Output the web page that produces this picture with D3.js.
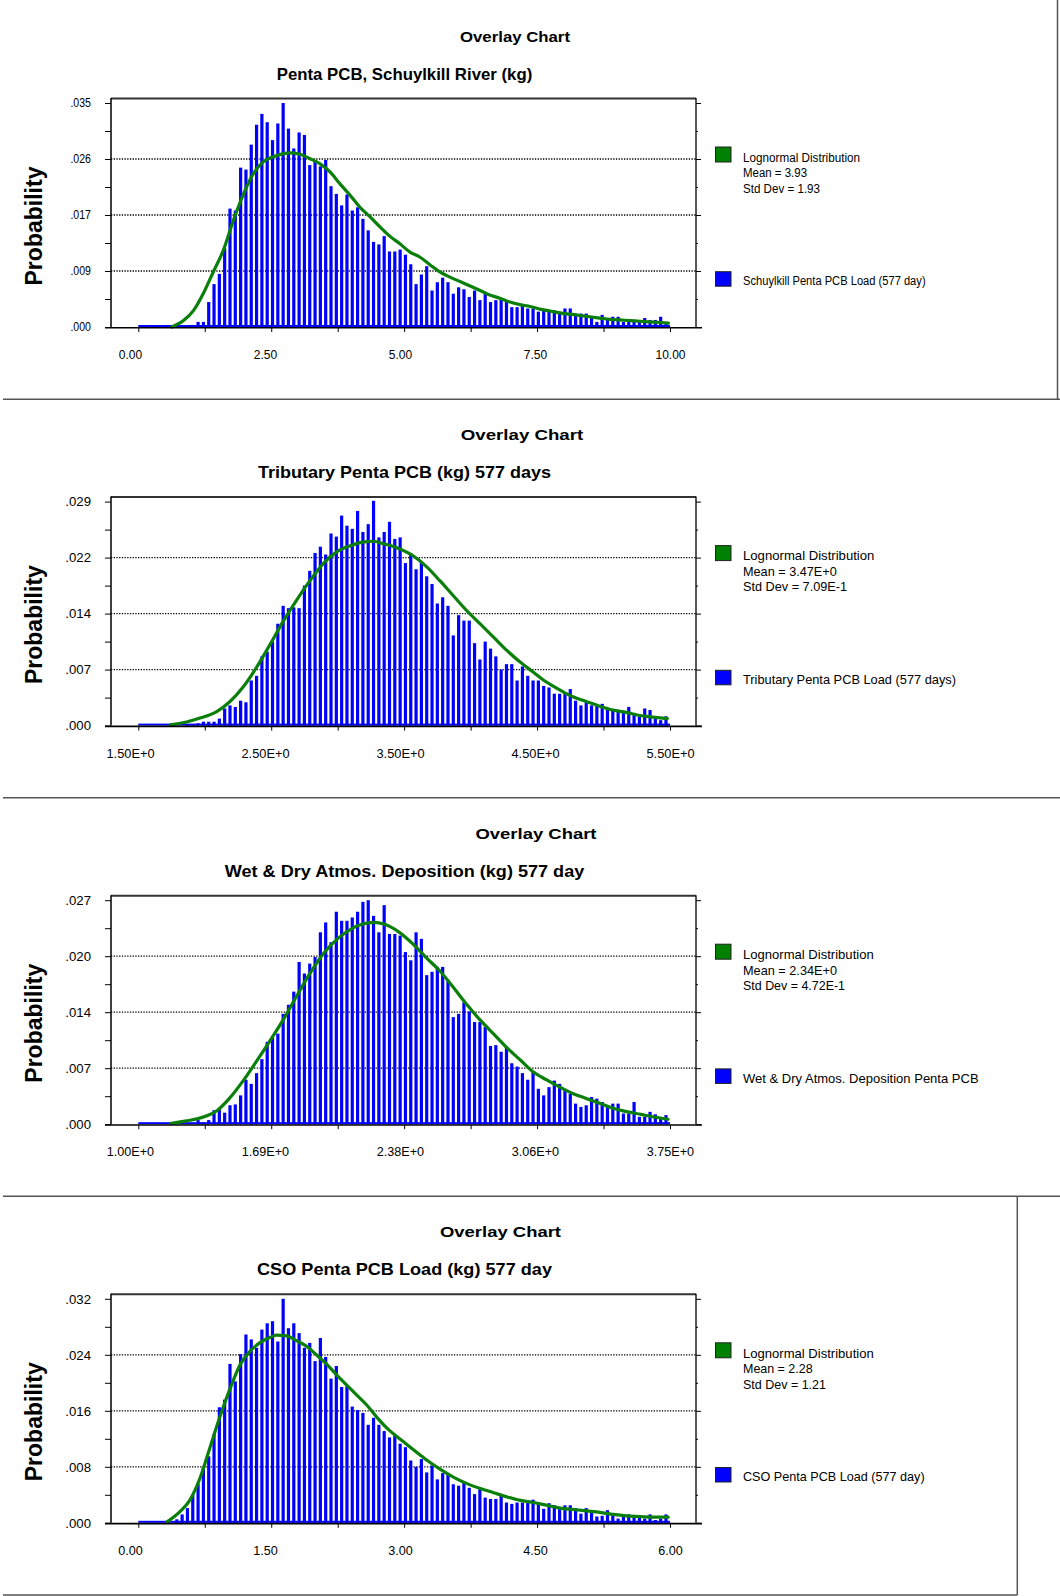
<!DOCTYPE html>
<html><head><meta charset="utf-8">
<script src="https://cdn.jsdelivr.net/npm/d3@7/dist/d3.min.js"></script>
<style>
body{margin:0;background:#fff}
svg{display:block}
text{font-family:"Liberation Sans",Arial,Helvetica,sans-serif;fill:#000}
</style>
</head><body>
<svg id="c" width="1060" height="1596"></svg>
<script>
// ---------------- DATA ----------------
const chartTitles = ["Overlay Chart","Overlay Chart","Overlay Chart","Overlay Chart"];
const chartSubtitles = ["Penta PCB, Schuylkill River (kg)","Tributary Penta PCB (kg) 577 days","Wet & Dry Atmos. Deposition (kg) 577 day","CSO Penta PCB Load (kg) 577 day"];
const seriesNames = ["Schuylkill Penta PCB Load (577 day)","Tributary Penta PCB Load (577 days)","Wet & Dry Atmos. Deposition Penta PCB","CSO Penta PCB Load (577 day)"];
const fitName = "Lognormal Distribution";
const fitMeans = ["Mean = 3.93","Mean = 3.47E+0","Mean = 2.34E+0","Mean = 2.28"];
const fitStdDevs = ["Std Dev = 1.93","Std Dev = 7.09E-1","Std Dev = 4.72E-1","Std Dev = 1.21"];
const yAxisTitle = "Probability";

const xDomains = [[0,10],[1.5,5.5],[1.0,3.75],[0,6]];
const yMaxes = [0.035,0.0288,0.0272,0.032];
const xTickLabels = [
  ["0.00","2.50","5.00","7.50","10.00"],
  ["1.50E+0","2.50E+0","3.50E+0","4.50E+0","5.50E+0"],
  ["1.00E+0","1.69E+0","2.38E+0","3.06E+0","3.75E+0"],
  ["0.00","1.50","3.00","4.50","6.00"]
];
const yTickLabels = [
  [".000",".009",".017",".026",".035"],
  [".000",".007",".014",".022",".029"],
  [".000",".007",".014",".020",".027"],
  [".000",".008",".016",".024",".032"]
];

// histogram probabilities, 100 equal bins across each x domain
const bars1 = [0,0,0,0,0,0,0,0,0,0,
0.0003,0.0008,0.0008,0.0039,0.0067,0.0083,0.0123,0.0185,0.0182,0.0249,
0.0246,0.0285,0.0316,0.0333,0.0320,0.0292,0.0318,0.0350,0.0310,0.0279,
0.0304,0.0300,0.0253,0.0260,0.0251,0.0261,0.0220,0.0208,0.0190,0.0207,
0.0182,0.0187,0.0169,0.0151,0.0133,0.0129,0.0142,0.0118,0.0118,0.0121,
0.0113,0.0098,0.0067,0.0082,0.0095,0.0057,0.0070,0.0077,0.0070,0.0052,
0.0062,0.0059,0.0047,0.0057,0.0042,0.0052,0.0039,0.0042,0.0044,0.0039,
0.0031,0.0031,0.0033,0.0029,0.0029,0.0024,0.0026,0.0025,0.0026,0.0021,
0.0029,0.0029,0.0021,0.0021,0.0021,0.0014,0.0008,0.0019,0.0014,0.0016,
0.0016,0.0008,0.0008,0.0008,0.0008,0.0014,0.0011,0.0011,0.0016,0.0008];
const bars2 = [0,0,0,0,0,0,0,0,0,0.0001,
0.0002,0.0003,0.0005,0.0005,0.0005,0.0009,0.0022,0.0026,0.0024,0.0032,
0.0030,0.0058,0.0064,0.0089,0.0095,0.0108,0.0131,0.0154,0.0151,0.0152,
0.0151,0.0180,0.0199,0.0222,0.0230,0.0220,0.0247,0.0243,0.0270,0.0257,
0.0253,0.0276,0.0249,0.0259,0.0289,0.0242,0.0249,0.0262,0.0240,0.0242,
0.0209,0.0222,0.0201,0.0211,0.0192,0.0182,0.0157,0.0165,0.0154,0.0116,
0.0142,0.0135,0.0135,0.0106,0.0085,0.0108,0.0099,0.0089,0.0072,0.0079,
0.0079,0.0058,0.0076,0.0064,0.0058,0.0058,0.0051,0.0049,0.0041,0.0041,
0.0043,0.0047,0.0032,0.0026,0.0030,0.0026,0.0026,0.0028,0.0022,0.0020,
0.0020,0.0018,0.0024,0.0016,0.0012,0.0022,0.0020,0.0012,0.0007,0.0012];
const bars3 = [0,0,0,0,0,0,0,0,0,0,
0,0.0005,0.0002,0.0005,0.0017,0.0019,0.0014,0.0023,0.0024,0.0035,
0.0054,0.0049,0.0062,0.0079,0.0100,0.0105,0.0110,0.0134,0.0145,0.0161,
0.0197,0.0183,0.0195,0.0203,0.0233,0.0245,0.0221,0.0258,0.0247,0.0247,
0.0251,0.0258,0.0270,0.0272,0.0253,0.0233,0.0266,0.0231,0.0231,0.0229,
0.0209,0.0199,0.0233,0.0225,0.0181,0.0185,0.0191,0.0191,0.0175,0.0130,
0.0134,0.0148,0.0137,0.0124,0.0124,0.0118,0.0095,0.0096,0.0088,0.0094,
0.0074,0.0070,0.0062,0.0054,0.0064,0.0043,0.0035,0.0045,0.0053,0.0049,
0.0041,0.0037,0.0025,0.0021,0.0023,0.0033,0.0031,0.0027,0.0023,0.0025,
0.0025,0.0013,0.0013,0.0027,0.0009,0.0009,0.0015,0.0012,0.0007,0.0011];
const bars4 = [0,0,0,0,0,0,0,0.0005,0.0012,0.0021,
0.0040,0.0056,0.0080,0.0095,0.0127,0.0165,0.0176,0.0227,0.0202,0.0241,
0.0269,0.0262,0.0250,0.0276,0.0285,0.0288,0.0259,0.0320,0.0278,0.0285,
0.0271,0.0250,0.0257,0.0231,0.0264,0.0237,0.0206,0.0224,0.0194,0.0196,
0.0166,0.0161,0.0157,0.0140,0.0150,0.0140,0.0131,0.0122,0.0125,0.0113,
0.0108,0.0089,0.0080,0.0091,0.0072,0.0082,0.0062,0.0071,0.0069,0.0055,
0.0053,0.0057,0.0050,0.0041,0.0048,0.0036,0.0034,0.0034,0.0039,0.0029,
0.0027,0.0029,0.0029,0.0032,0.0033,0.0028,0.0020,0.0028,0.0025,0.0020,
0.0025,0.0025,0.0021,0.0013,0.0021,0.0018,0.0009,0.0010,0.0018,0.0010,
0.0006,0.0012,0.0012,0.0011,0.0009,0.0006,0.0012,0.0004,0.0006,0.0012];

// fitted lognormal curves
const curveX1 = [0.63,0.85,1.04,1.22,1.41,1.60,1.79,1.98,2.16,2.35,2.54,2.73,2.85,3.04,3.23,3.42,3.61,3.79,3.98,4.17,4.36,4.55,4.73,4.92,5.11,5.30,5.49,5.67,5.86,6.05,6.24,6.43,6.61,6.80,6.99,7.18,7.37,7.55,7.74,7.93,8.12,8.31,8.49,8.68,8.87,9.06,9.25,9.43,9.62,9.81,9.97];
const curveY1 = [0,0.0010,0.0026,0.0052,0.0086,0.0120,0.0167,0.0208,0.0239,0.0258,0.0266,0.0271,0.0272,0.0270,0.0263,0.0255,0.0242,0.0224,0.0206,0.0187,0.0172,0.0156,0.0142,0.0130,0.0117,0.0109,0.0097,0.0086,0.0078,0.0071,0.0064,0.0057,0.0050,0.0045,0.0039,0.0035,0.0032,0.0028,0.0025,0.0022,0.0020,0.0018,0.0016,0.0014,0.0012,0.0011,0.0010,0.0009,0.0008,0.0007,0.0006];
const curveX2 = [1.74,1.87,1.97,2.09,2.19,2.29,2.39,2.49,2.59,2.69,2.79,2.89,2.99,3.09,3.19,3.27,3.34,3.44,3.57,3.67,3.77,3.87,3.97,4.07,4.17,4.27,4.37,4.47,4.57,4.67,4.77,4.87,4.97,5.07,5.17,5.27,5.37,5.48];
const curveY2 = [0.0001,0.0005,0.0010,0.0018,0.0031,0.0050,0.0075,0.0104,0.0134,0.0161,0.0186,0.0208,0.0223,0.0231,0.0236,0.0237,0.0234,0.0229,0.0218,0.0204,0.0186,0.0167,0.0148,0.0131,0.0114,0.0097,0.0082,0.0069,0.0056,0.0046,0.0037,0.0031,0.0025,0.0020,0.0017,0.0013,0.0011,0.0009];
const curveX3 = [1.17,1.25,1.34,1.41,1.47,1.54,1.61,1.68,1.75,1.82,1.89,1.96,2.03,2.10,2.16,2.22,2.27,2.35,2.42,2.49,2.56,2.63,2.70,2.77,2.84,2.91,2.98,3.04,3.11,3.18,3.25,3.32,3.39,3.46,3.53,3.60,3.66,3.74];
const curveY3 = [0.0001,0.0004,0.0009,0.0017,0.0031,0.0052,0.0076,0.0101,0.0127,0.0156,0.0184,0.0208,0.0225,0.0237,0.0243,0.0245,0.0243,0.0233,0.0219,0.0202,0.0186,0.0166,0.0145,0.0126,0.0109,0.0092,0.0077,0.0064,0.0054,0.0045,0.0037,0.0031,0.0025,0.0019,0.0015,0.0012,0.0009,0.0006];
const curveX4 = [0.32,0.47,0.58,0.70,0.81,0.92,1.04,1.15,1.26,1.37,1.49,1.56,1.67,1.79,1.90,2.01,2.13,2.24,2.35,2.46,2.58,2.69,2.80,2.92,3.03,3.18,3.25,3.40,3.56,3.71,3.86,4.01,4.16,4.31,4.46,4.61,4.76,4.91,5.06,5.21,5.36,5.51,5.66,5.81,5.98];
const curveY4 = [0.0001,0.0016,0.0032,0.0065,0.0108,0.0151,0.0193,0.0226,0.0245,0.0257,0.0265,0.0268,0.0267,0.0260,0.0252,0.0240,0.0226,0.0211,0.0197,0.0183,0.0168,0.0151,0.0136,0.0123,0.0112,0.0097,0.0090,0.0077,0.0065,0.0056,0.0049,0.0043,0.0037,0.0032,0.0029,0.0025,0.0021,0.0019,0.0017,0.0015,0.0012,0.0010,0.0009,0.0008,0.0008];

const allBars = [bars1,bars2,bars3,bars4];
const allCurveX = [curveX1,curveX2,curveX3,curveX4];
const allCurveY = [curveY1,curveY2,curveY3,curveY4];

// ---------------- LAYOUT / STYLE ----------------
const LAY = {
  panelStep: 398.6, base0: 327, plotL: 111, plotR: 696, plotH: 224, frameH: 229,
  xr0: 138.3, xr1: 670, lab0: 130, lab1: 670,
  titleCX: [515, 522, 536, 500.5], titleLen: [110, 122.5, 121, 121],
  subCX: 404.5, subLen: [255.5, 293, 359.5, 295],
  legX: 743, boxX: 715.5,
  legLen: [[117, 64, 77, 182.6],[131.4, 93.7, 104, 213],[130.7, 94, 102, 235.6],[130.7, 69.6, 83, 181.6]],
  xFont: [12, 12.8, 12.6, 12.6], yFont: [12, 13.2, 13.2, 13.2],
  yLen: [20.6, 25.7, 25.7, 25.7],
  legFont: [12.5, 13, 13, 13]
};
const BLUE = "#0000ff", GREEN = "#0a800a";

const svg = d3.select("#c");

// panel borders
const borders = svg.append("g").attr("stroke", "#555").attr("stroke-width", 1.5).attr("fill", "none");
borders.append("path").attr("d", "M1057.5,0V399.3M3,399.3H1060M3,797.8H1060M3,1196.3H1060M1017.3,1196.3V1595M3,1595H1017.3");

for (let p = 0; p < 4; p++) {
  const base = LAY.base0 + p * LAY.panelStep;
  const top = base - LAY.frameH;
  const g = svg.append("g");
  const x = d3.scaleLinear().domain(xDomains[p]).range([LAY.xr0, LAY.xr1]);
  const xLab = x.copy().range([LAY.lab0, LAY.lab1]);
  const yMax = yMaxes[p];
  const y = d3.scaleLinear().domain([0, yMax]).range([base, base - LAY.plotH]);
  const [d0, d1] = xDomains[p];

  // titles
  g.append("text").attr("x", LAY.titleCX[p]).attr("y", base - 285.5)
    .attr("text-anchor", "middle").attr("font-size", 15.5).attr("font-weight", "bold")
    .attr("textLength", LAY.titleLen[p]).attr("lengthAdjust", "spacingAndGlyphs")
    .text(chartTitles[p]);
  g.append("text").attr("x", LAY.subCX).attr("y", base - 247.5)
    .attr("text-anchor", "middle").attr("font-size", 16.5).attr("font-weight", "bold")
    .attr("textLength", LAY.subLen[p]).attr("lengthAdjust", "spacingAndGlyphs")
    .text(chartSubtitles[p]);

  // y axis title
  g.append("text").attr("transform", `translate(41.5,${base - 101}) rotate(-90)`)
    .attr("text-anchor", "middle").attr("font-size", 24).attr("font-weight", "bold")
    .attr("textLength", 119).attr("lengthAdjust", "spacingAndGlyphs")
    .text(yAxisTitle);

  // gridlines (dotted)
  const majorVals = d3.range(5).map(k => yMax * k / 4);
  const minorVals = d3.range(4).map(k => yMax * (2 * k + 1) / 8);
  g.append("g").selectAll("line").data(majorVals.slice(1, 4)).join("line")
    .attr("x1", LAY.plotL).attr("x2", LAY.plotR)
    .attr("y1", d => y(d)).attr("y2", d => y(d))
    .attr("stroke", "#000").attr("stroke-width", 1.3).attr("stroke-dasharray", "1.3,1.4");

  // bars
  const n = allBars[p].length;
  const bw = (d1 - d0) / n;
  g.append("rect").attr("x", x(d0)).attr("width", x(d1) - x(d0))
    .attr("y", base - 2).attr("height", 2).attr("fill", BLUE);
  g.append("g").selectAll("rect").data(allBars[p]).join("rect")
    .attr("x", (d, i) => x(d0 + i * bw) - 0.3)
    .attr("width", (x(d0 + bw) - x(d0)) * 0.6)
    .attr("y", d => y(d))
    .attr("height", d => base - y(d))
    .attr("fill", BLUE);

  // fitted curve
  const pts = allCurveX[p].map((v, i) => [v, allCurveY[p][i]]);
  g.append("path").datum(pts)
    .attr("d", d3.line().x(d => x(d[0])).y(d => y(d[1])).curve(d3.curveMonotoneX))
    .attr("fill", "none").attr("stroke", GREEN).attr("stroke-width", 3.2)
    .attr("stroke-linejoin", "round").attr("stroke-linecap", "round");

  // frame
  g.append("line").attr("x1", LAY.plotL).attr("x2", LAY.plotR).attr("y1", top + 0.5).attr("y2", top + 0.5)
    .attr("stroke", "#333").attr("stroke-width", 2);
  g.append("line").attr("x1", LAY.plotL).attr("x2", LAY.plotL).attr("y1", top).attr("y2", base)
    .attr("stroke", "#000").attr("stroke-width", 1.5);
  g.append("line").attr("x1", LAY.plotR).attr("x2", LAY.plotR).attr("y1", top).attr("y2", base)
    .attr("stroke", "#000").attr("stroke-width", 1.3);
  g.append("line").attr("x1", 105).attr("x2", 702).attr("y1", base + 0.8).attr("y2", base + 0.8)
    .attr("stroke", "#000").attr("stroke-width", 1.6);

  // left axis ticks + labels
  const left = g.append("g").attr("transform", `translate(${LAY.plotL},0)`)
    .call(d3.axisLeft(y).tickValues(majorVals.concat(minorVals)).tickSize(6).tickFormat(""));
  left.select(".domain").remove();
  left.selectAll(".tick line").attr("stroke", "#000");
  const yl = g.append("g").attr("transform", `translate(${LAY.plotL},0)`)
    .call(d3.axisLeft(y).tickValues(majorVals).tickSize(0).tickPadding(20)
      .tickFormat((d, i) => yTickLabels[p][i]));
  yl.select(".domain").remove();
  yl.selectAll("text").attr("font-size", LAY.yFont[p]).attr("font-family", null).attr("fill", "#000")
    .attr("textLength", LAY.yLen[p]).attr("lengthAdjust", "spacingAndGlyphs");

  // right axis ticks
  const right1 = g.append("g").attr("transform", `translate(${LAY.plotR},0)`)
    .call(d3.axisRight(y).tickValues(majorVals).tickSize(5).tickFormat(""));
  right1.select(".domain").remove();
  const right2 = g.append("g").attr("transform", `translate(${LAY.plotR},0)`)
    .call(d3.axisRight(y).tickValues(minorVals).tickSize(2).tickFormat(""));
  right2.select(".domain").remove();

  // bottom ticks and labels
  const xt = d3.range(9).map(k => d0 + (d1 - d0) * k / 8);
  const bt = g.append("g").attr("transform", `translate(0,${base + 1})`)
    .call(d3.axisBottom(x).tickValues(xt).tickSize(4).tickFormat(""));
  bt.select(".domain").remove();
  const xlv = d3.range(5).map(k => d0 + (d1 - d0) * k / 4);
  const bl = g.append("g").attr("transform", `translate(0,${base})`)
    .call(d3.axisBottom(xLab).tickValues(xlv).tickSize(0).tickPadding(23)
      .tickFormat((d, i) => xTickLabels[p][i]));
  bl.select(".domain").remove();
  bl.selectAll("text").attr("font-size", LAY.xFont[p]).attr("font-family", null).attr("fill", "#000");

  // legend
  const lg = g.append("g");
  lg.append("rect").attr("x", LAY.boxX).attr("y", base - 180).attr("width", 15.5).attr("height", 15)
    .attr("fill", "#008000").attr("stroke", "#222").attr("stroke-width", 1);
  lg.append("rect").attr("x", LAY.boxX).attr("y", base - 55.3).attr("width", 15.5).attr("height", 14.5)
    .attr("fill", BLUE).attr("stroke", "#222").attr("stroke-width", 1);
  const legLines = [[fitName, base - 165.3], [fitMeans[p], base - 149.6], [fitStdDevs[p], base - 134.2], [seriesNames[p], base - 41.6]];
  legLines.forEach(([t, yy], i) => {
    lg.append("text").attr("x", LAY.legX).attr("y", yy).attr("font-size", LAY.legFont[p])
      .attr("textLength", LAY.legLen[p][i]).attr("lengthAdjust", "spacingAndGlyphs").text(t);
  });
}
</script>
</body></html>
